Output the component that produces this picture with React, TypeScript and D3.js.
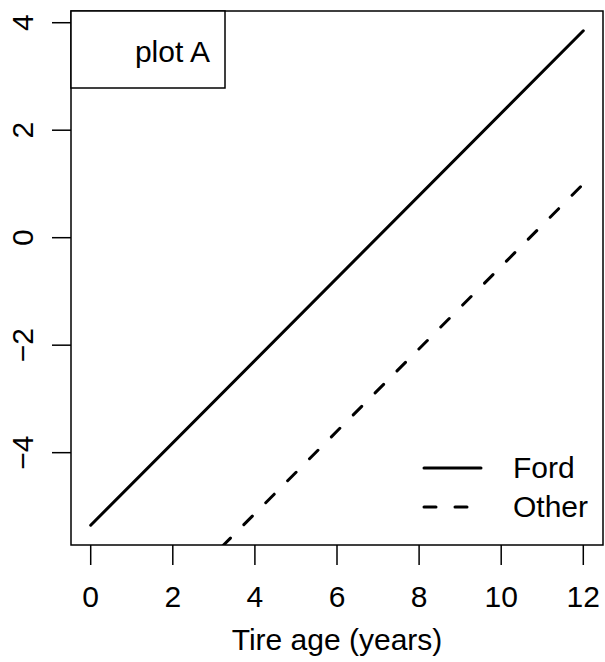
import React, { useEffect, useRef } from "react";
import * as d3 from "d3";

// Tire age (years) at the two ends of each fitted line
const age = [0, 12];
const fordFit = [-5.35, 3.85];
const otherFit = [-8.2, 1.0];

const xTicks = [0, 2, 4, 6, 8, 10, 12];
const yTicks = [-4, -2, 0, 2, 4];

const legendLabels = ["Ford", "Other"];
const panelLabel = "plot A";
const xTitle = "Tire age (years)";

const App: React.FC = () => {
  const ref = useRef<SVGSVGElement>(null);

  useEffect(() => {
    const width = 605;
    const height = 662;
    const box = { left: 71, right: 603, top: 11, bottom: 545 };
    const font = "'Liberation Sans', Arial, sans-serif";
    const fs = 30;

    // R-style 4% padding around the data range
    const pad = (lo: number, hi: number) => {
      const d = (hi - lo) * 0.04;
      return [lo - d, hi + d];
    };
    const x = d3.scaleLinear().domain(pad(0, 12)).range([box.left, box.right]);
    const y = d3
      .scaleLinear()
      .domain(pad(d3.min(fordFit)!, d3.max(fordFit)!))
      .range([box.bottom, box.top]);

    const svg = d3.select(ref.current);
    svg.selectAll("*").remove();
    svg.attr("width", width).attr("height", height);

    svg.append("rect").attr("width", width).attr("height", height).attr("fill", "#fff");

    svg
      .append("clipPath")
      .attr("id", "plotclip")
      .append("rect")
      .attr("x", box.left)
      .attr("y", box.top)
      .attr("width", box.right - box.left)
      .attr("height", box.bottom - box.top);

    const line = d3
      .line<number>()
      .x((_, i) => x(age[i]))
      .y((d) => y(d));

    const g = svg.append("g").attr("clip-path", "url(#plotclip)");
    g.append("path")
      .attr("d", line(fordFit))
      .attr("fill", "none")
      .attr("stroke", "#000")
      .attr("stroke-width", 3)
      .attr("stroke-linecap", "round");
    g.append("path")
      .attr("d", line(otherFit))
      .attr("fill", "none")
      .attr("stroke", "#000")
      .attr("stroke-width", 3)
      .attr("stroke-linecap", "round")
      .attr("stroke-dasharray", "12 19");

    // frame
    svg
      .append("rect")
      .attr("x", box.left)
      .attr("y", box.top)
      .attr("width", box.right - box.left)
      .attr("height", box.bottom - box.top)
      .attr("fill", "none")
      .attr("stroke", "#000")
      .attr("stroke-width", 1.5);

    // x axis
    const xa = svg.append("g");
    xa.selectAll("line")
      .data(xTicks)
      .enter()
      .append("line")
      .attr("x1", (d) => x(d))
      .attr("x2", (d) => x(d))
      .attr("y1", box.bottom)
      .attr("y2", box.bottom + 20)
      .attr("stroke", "#000")
      .attr("stroke-width", 1.5);
    xa.selectAll("text")
      .data(xTicks)
      .enter()
      .append("text")
      .attr("x", (d) => x(d))
      .attr("y", 607)
      .attr("text-anchor", "middle")
      .style("font-family", font)
      .style("font-size", `${fs}px`)
      .text((d) => String(d));

    svg
      .append("text")
      .attr("x", (box.left + box.right) / 2)
      .attr("y", 650)
      .attr("text-anchor", "middle")
      .style("font-family", font)
      .style("font-size", `${fs}px`)
      .text(xTitle);

    // y axis
    const ya = svg.append("g");
    ya.selectAll("line")
      .data(yTicks)
      .enter()
      .append("line")
      .attr("x1", box.left)
      .attr("x2", box.left - 19)
      .attr("y1", (d) => y(d))
      .attr("y2", (d) => y(d))
      .attr("stroke", "#000")
      .attr("stroke-width", 1.5);
    ya.selectAll("text")
      .data(yTicks)
      .enter()
      .append("text")
      .attr("transform", (d) => `translate(33,${y(d)}) rotate(-90)`)
      .attr("text-anchor", "middle")
      .style("font-family", font)
      .style("font-size", `${fs}px`)
      .text((d) => (d < 0 ? `\u2212${Math.abs(d)}` : String(d)));

    // panel label box
    svg
      .append("rect")
      .attr("x", box.left)
      .attr("y", box.top)
      .attr("width", 154)
      .attr("height", 77)
      .attr("fill", "#fff")
      .attr("stroke", "#000")
      .attr("stroke-width", 1.5);
    svg
      .append("text")
      .attr("x", 210)
      .attr("y", 62)
      .attr("text-anchor", "end")
      .style("font-family", font)
      .style("font-size", `${fs}px`)
      .text(panelLabel);

    // legend
    const lg = svg.append("g");
    const rows = [468, 507];
    legendLabels.forEach((lab, i) => {
      lg.append("line")
        .attr("x1", 424)
        .attr("x2", 481)
        .attr("y1", rows[i])
        .attr("y2", rows[i])
        .attr("stroke", "#000")
        .attr("stroke-width", 3)
        .attr("stroke-linecap", "round")
        .attr("stroke-dasharray", i === 1 ? "12 19" : null);
      lg.append("text")
        .attr("x", 513)
        .attr("y", rows[i] + 10)
        .style("font-family", font)
        .style("font-size", `${fs}px`)
        .text(lab);
    });
  }, []);

  return (
    <div style={{ position: "absolute", left: 0, top: 0 }}>
      <svg ref={ref} style={{ display: "block" }}></svg>
    </div>
  );
};

export default App;
